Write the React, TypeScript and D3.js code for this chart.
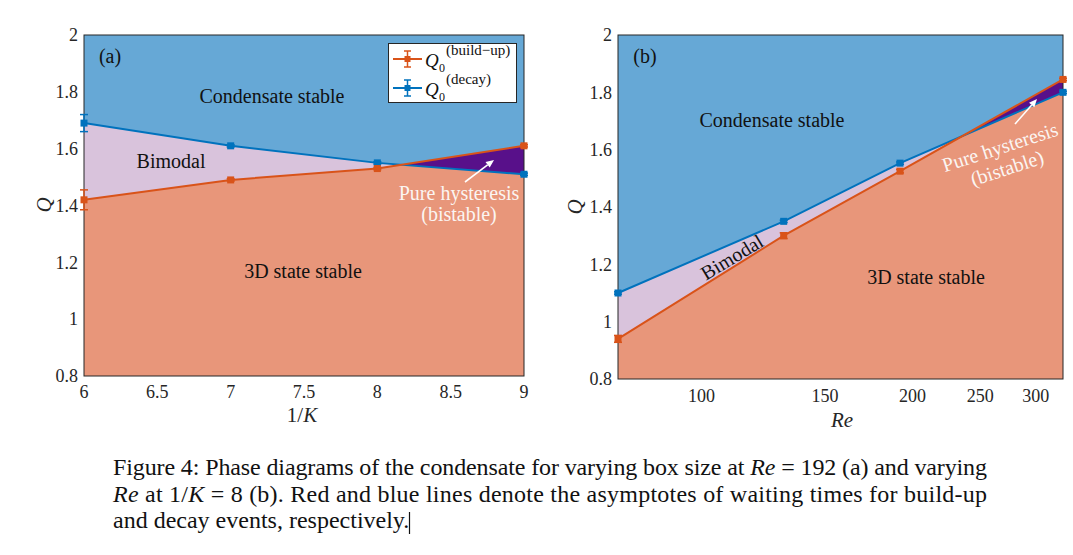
import React from "react";
import * as d3 from "d3";

// ---------- data ----------
const invK = [6, 7, 8, 9];
const qBuildA = [1.42, 1.49, 1.53, 1.61];
const errBuildA = [0.035, 0.004, 0.004, 0.004];
const qDecayA = [1.69, 1.61, 1.55, 1.51];
const errDecayA = [0.03, 0.004, 0.004, 0.004];

const reVals = [76, 131, 192, 328];
const qBuildB = [0.94, 1.3, 1.525, 1.845];
const errBuildB = [0.012, 0.01, 0.006, 0.004];
const qDecayB = [1.1, 1.35, 1.553, 1.8];
const errDecayB = [0.004, 0.004, 0.004, 0.004];

const yTicks = [0.8, 1, 1.2, 1.4, 1.6, 1.8, 2];
const xTicksA = [6, 6.5, 7, 7.5, 8, 8.5, 9];
const xTicksB = [100, 150, 200, 250, 300];

const C_BLUE_REG = "#66a8d6";
const C_RED_REG = "#e8967a";
const C_BIMODAL = "#d9c3dc";
const C_PURE = "#58108a";
const C_RED = "#d95319";
const C_BLUE = "#0072bd";
const FONT = "'Liberation Serif', 'Times New Roman', serif";

type Pt = { x: number; r: number; b: number };

function mergedPoints(xs: number[], r: number[], b: number[], sx: any): Pt[] {
  const out: Pt[] = [];
  for (let i = 0; i < xs.length; i++) {
    out.push({ x: xs[i], r: r[i], b: b[i] });
    if (i < xs.length - 1) {
      const d0 = r[i] - b[i];
      const d1 = r[i + 1] - b[i + 1];
      if (d0 * d1 < 0) {
        const t = d0 / (d0 - d1);
        const px = sx(xs[i]) + t * (sx(xs[i + 1]) - sx(xs[i]));
        const y = r[i] + t * (r[i + 1] - r[i]);
        out.push({ x: sx.invert(px), r: y, b: y });
      }
    }
  }
  return out;
}

function Series({ xs, ys, errs, color, sx, sy }: any) {
  const line = d3
    .line<number>()
    .x((_, i) => sx(xs[i]))
    .y((d) => sy(d));
  return (
    <g>
      <path d={line(ys) || ""} fill="none" stroke={color} strokeWidth={2} />
      {ys.map((y: number, i: number) => {
        const cx = sx(xs[i]);
        const y0 = sy(y - errs[i]);
        const y1 = sy(y + errs[i]);
        return (
          <g key={i}>
            <line x1={cx} x2={cx} y1={y0} y2={y1} stroke={color} strokeWidth={1.5} />
            <line x1={cx - 4} x2={cx + 4} y1={y0} y2={y0} stroke={color} strokeWidth={1.5} />
            <line x1={cx - 4} x2={cx + 4} y1={y1} y2={y1} stroke={color} strokeWidth={1.5} />
            <rect x={cx - 3.5} y={sy(y) - 3.5} width={7} height={7} fill={color} />
          </g>
        );
      })}
    </g>
  );
}

function Arrow({ x1, y1, x2, y2 }: any) {
  const ang = Math.atan2(y2 - y1, x2 - x1);
  const L = 8, W = 3.5;
  const bx = x2 - L * Math.cos(ang);
  const by = y2 - L * Math.sin(ang);
  const nx = -Math.sin(ang), ny = Math.cos(ang);
  return (
    <g>
      <line x1={x1} y1={y1} x2={bx} y2={by} stroke="#fff" strokeWidth={1.6} />
      <polygon
        points={`${x2},${y2} ${bx + nx * W},${by + ny * W} ${bx - nx * W},${by - ny * W}`}
        fill="#fff"
      />
    </g>
  );
}

function Panel({ sx, sy, xs, r, b, er, eb, xTicks, xTickY, yTickX }: any) {
  const pts = mergedPoints(xs, r, b, sx);
  const [x0, x1] = sx.range();
  const [yb, yt] = sy.range();
  const top = d3
    .area<Pt>()
    .x((d) => sx(d.x))
    .y0(sy(2))
    .y1((d) => sy(Math.max(d.r, d.b)));
  const bottom = d3
    .area<Pt>()
    .x((d) => sx(d.x))
    .y0(sy(0.8))
    .y1((d) => sy(Math.min(d.r, d.b)));
  const bim = d3
    .area<Pt>()
    .defined((d) => d.b >= d.r)
    .x((d) => sx(d.x))
    .y0((d) => sy(d.r))
    .y1((d) => sy(d.b));
  const pure = d3
    .area<Pt>()
    .defined((d) => d.r >= d.b)
    .x((d) => sx(d.x))
    .y0((d) => sy(d.b))
    .y1((d) => sy(d.r));
  return (
    <g>
      <rect x={x0} y={yt} width={x1 - x0} height={yb - yt} fill={C_BLUE_REG} />
      <path d={top(pts) || ""} fill={C_BLUE_REG} />
      <path d={bottom(pts) || ""} fill={C_RED_REG} />
      <path d={bim(pts) || ""} fill={C_BIMODAL} />
      <path d={pure(pts) || ""} fill={C_PURE} />
      <rect x={x0} y={yt} width={x1 - x0} height={yb - yt} fill="none" stroke="#262626" strokeWidth={1} />
      <Series xs={xs} ys={b} errs={eb} color={C_BLUE} sx={sx} sy={sy} />
      <Series xs={xs} ys={r} errs={er} color={C_RED} sx={sx} sy={sy} />
      {yTicks.map((t) => (
        <text key={t} x={yTickX} y={sy(t)} dy="0.35em" textAnchor="end" fontSize={18} fontFamily={FONT} fill="#262626">
          {String(t)}
        </text>
      ))}
      {xTicks.map((t: number) => (
        <text key={t} x={sx(t)} y={xTickY} textAnchor="middle" fontSize={18} fontFamily={FONT} fill="#262626">
          {String(t)}
        </text>
      ))}
    </g>
  );
}

export default function App() {
  const sxA = d3.scaleLinear().domain([6, 9]).range([84, 524]);
  const syA = d3.scaleLinear().domain([0.8, 2]).range([376, 35]);
  const sxB = d3.scaleLog().domain([76, 328]).range([618, 1063]);
  const syB = d3.scaleLinear().domain([0.8, 2]).range([379, 35]);

  const label = { fontFamily: FONT, fontSize: 20, fill: "#111" } as const;
  const white = { fontFamily: FONT, fontSize: 20, fill: "#fbf5f2" } as const;

  return (
    <svg
      width={1073}
      height={555}
      style={{ position: "absolute", left: 0, top: 0, background: "#fff" }}
    >
      <rect x={0} y={0} width={1073} height={555} fill="#fff" />
      {/* Panel (a) */}
      <Panel sx={sxA} sy={syA} xs={invK} r={qBuildA} b={qDecayA} er={errBuildA} eb={errDecayA}
        xTicks={xTicksA} xTickY={398} yTickX={78} />
      <text x={110} y={63} textAnchor="middle" {...label}>(a)</text>
      <text x={272} y={103} textAnchor="middle" {...label}>Condensate stable</text>
      <text x={171} y={168} textAnchor="middle" {...label}>Bimodal</text>
      <text x={303} y={278} textAnchor="middle" {...label}>3D state stable</text>
      <text x={459} y={200} textAnchor="middle" {...white}>Pure hysteresis</text>
      <text x={459} y={221} textAnchor="middle" {...white}>(bistable)</text>
      <Arrow x1={465} y1={182} x2={494} y2={160} />
      <text x={44} y={205} textAnchor="middle" fontFamily={FONT} fontStyle="italic" fontSize={21} fill="#262626"
        transform="rotate(-90 44 205)" dy="0.35em">Q</text>
      <text x={302} y={422} textAnchor="middle" fontFamily={FONT} fontSize={21} fill="#262626">
        1/<tspan fontStyle="italic">K</tspan>
      </text>

      {/* Legend */}
      <g>
        <rect x={388.5} y={43.5} width={128} height={59} fill="#fff" stroke="#262626" strokeWidth={1} />
        {[
          { y: 59, c: C_RED, sup: "(build\u2212up)" },
          { y: 88, c: C_BLUE, sup: "(decay)" },
        ].map((row, i) => (
          <g key={i}>
            <line x1={393} x2={422} y1={row.y} y2={row.y} stroke={row.c} strokeWidth={2} />
            <line x1={407.5} x2={407.5} y1={row.y - 8} y2={row.y + 8} stroke={row.c} strokeWidth={1.5} />
            <line x1={404} x2={411} y1={row.y - 8} y2={row.y - 8} stroke={row.c} strokeWidth={1.5} />
            <line x1={404} x2={411} y1={row.y + 8} y2={row.y + 8} stroke={row.c} strokeWidth={1.5} />
            <rect x={404.5} y={row.y - 3} width={6} height={6} fill={row.c} />
            <text x={425} y={row.y + 8} fontFamily={FONT} fontStyle="italic" fontSize={19} fill="#111">Q</text>
            <text x={439} y={row.y + 13} fontFamily={FONT} fontSize={12} fill="#111">0</text>
            <text x={446} y={row.y - 4} fontFamily={FONT} fontSize={15} fill="#111">{row.sup}</text>
          </g>
        ))}
      </g>

      {/* Panel (b) */}
      <Panel sx={sxB} sy={syB} xs={reVals} r={qBuildB} b={qDecayB} er={errBuildB} eb={errDecayB}
        xTicks={xTicksB} xTickY={402} yTickX={612} />
      <text x={645} y={63} textAnchor="middle" {...label}>(b)</text>
      <text x={772} y={127} textAnchor="middle" {...label}>Condensate stable</text>
      <text x={926} y={284} textAnchor="middle" {...label}>3D state stable</text>
      <text x={732} y={257} textAnchor="middle" dy="0.35em" {...label} transform="rotate(-31 732 257)">Bimodal</text>
      <text x={1000} y={147} textAnchor="middle" dy="0.35em" {...white} transform="rotate(-18 1000 147)">Pure hysteresis</text>
      <text x={1007} y={168} textAnchor="middle" dy="0.35em" {...white} transform="rotate(-18 1007 168)">(bistable)</text>
      <Arrow x1={1015} y1={124} x2={1037} y2={99} />
      <text x={575} y={207} textAnchor="middle" fontFamily={FONT} fontStyle="italic" fontSize={21} fill="#262626"
        transform="rotate(-90 575 207)" dy="0.35em">Q</text>
      <text x={842} y={427} textAnchor="middle" fontFamily={FONT} fontStyle="italic" fontSize={21} fill="#262626">Re</text>

      {/* Caption */}
      <g fontFamily={FONT} fontSize={24} fill="#111">
        <text x={113} y={475} textLength={874} lengthAdjust="spacing">
          Figure 4: Phase diagrams of the condensate for varying box size at <tspan fontStyle="italic">Re</tspan> = 192 (a) and varying
        </text>
        <text x={113} y={502} textLength={874} lengthAdjust="spacing">
          <tspan fontStyle="italic">Re</tspan> at 1/<tspan fontStyle="italic">K</tspan> = 8 (b). Red and blue lines denote the asymptotes of waiting times for build-up
        </text>
        <text x={113} y={528}>and decay events, respectively.</text>
        <line x1={409.5} x2={409.5} y1={512} y2={534} stroke="#111" strokeWidth={1.2} />
      </g>
    </svg>
  );
}
